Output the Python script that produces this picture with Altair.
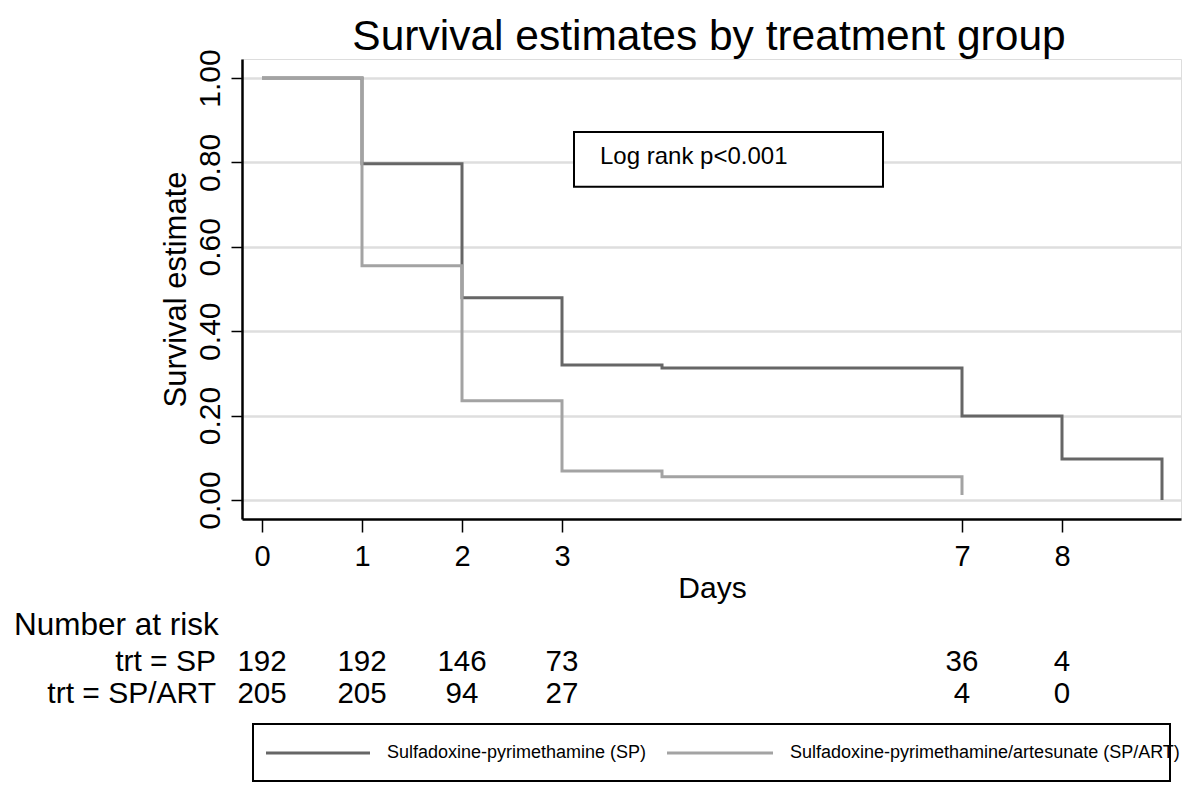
import altair as alt
import pandas as pd

# ---- data ----
days_sp = [0, 1, 2, 3, 4, 7, 8, 9]
surv_sp = [1.0, 0.797, 0.479, 0.320, 0.313, 0.199, 0.097, 0.0]
days_art = [0, 1, 2, 3, 4, 7]
surv_art = [1.0, 0.555, 0.235, 0.069, 0.055, 0.012]

risk_days = [0, 1, 2, 3, 7, 8]
risk_sp = [192, 192, 146, 73, 36, 4]
risk_art = [205, 205, 94, 27, 4, 0]

series_names = ["Sulfadoxine-pyrimethamine (SP)", "Sulfadoxine-pyrimethamine/artesunate (SP/ART)"]
row_labels = ["trt = SP", "trt = SP/ART"]
x_ticks = [0, 1, 2, 3, 7, 8]
y_ticks = [0.0, 0.2, 0.4, 0.6, 0.8, 1.0]

TITLE = "Survival estimates by treatment group"
ANNOT = "Log rank p<0.001"

# ---- styles ----
FONT = "Liberation Sans"
DARK = "#666666"
LIGHT = "#a3a3a3"
W, H = 939, 460

xs = alt.Scale(domain=[-0.2, 9.19], nice=False, zero=False)
ys = alt.Scale(domain=[-0.045, 1.045], nice=False, zero=False)

df_sp = pd.DataFrame({"day": days_sp, "s": surv_sp})
df_art = pd.DataFrame({"day": days_art, "s": surv_art})

x_axis = alt.Axis(values=x_ticks, grid=False, labelFontSize=29, labelFont=FONT,
                  labelColor="black", tickColor="black", tickSize=13, tickWidth=1.5,
                  domainColor="black", domainWidth=2.5, labelPadding=10,
                  title="Days", titleFont=FONT, titleFontSize=30, titleFontWeight="normal",
                  titleColor="black", titleX=470, titleY=78, titleBaseline="alphabetic",
                  titleAlign="center", format="d")
y_axis = alt.Axis(values=y_ticks, grid=True, gridColor="#dedede", gridWidth=2.5,
                  labelFontSize=30, labelFont=FONT, labelColor="black", labelAngle=270,
                  labelAlign="center", labelBaseline="bottom", labelPadding=6,
                  tickColor="black", tickSize=11, tickWidth=1.5, domainColor="black",
                  domainWidth=2.5, format=".2f",
                  title="Survival estimate", titleFont=FONT, titleFontSize=31,
                  titleFontWeight="normal", titleColor="black", titleAngle=270,
                  titleX=-57, titleY=H / 2, titleAlign="center", titleBaseline="alphabetic")

base_sp = alt.Chart(df_sp).mark_line(interpolate="step-after", color=DARK, strokeWidth=3).encode(
    x=alt.X("day:Q", scale=xs, axis=x_axis),
    y=alt.Y("s:Q", scale=ys, axis=y_axis),
)
line_art = alt.Chart(df_art).mark_line(interpolate="step-after", color=LIGHT, strokeWidth=3).encode(
    x=alt.X("day:Q", scale=xs), y=alt.Y("s:Q", scale=ys))

# log-rank annotation box (data coordinates)
box_df = pd.DataFrame({"x": [3.12], "x2": [6.21], "y": [0.872], "y2": [0.742],
                       "tx": [3.38], "ty": [0.813], "t": [ANNOT]})
box = alt.Chart(box_df).mark_rect(fill="white", stroke="black", strokeWidth=2).encode(
    x=alt.X("x:Q", scale=xs), x2="x2", y=alt.Y("y:Q", scale=ys), y2="y2")
box_text = alt.Chart(box_df).mark_text(align="left", baseline="middle", font=FONT,
                                        fontSize=24, color="black").encode(
    x=alt.X("tx:Q", scale=xs), y=alt.Y("ty:Q", scale=ys), text="t:N")

# title
title_df = pd.DataFrame({"t": [TITLE]})
title = alt.Chart(title_df).mark_text(align="center", baseline="alphabetic", font=FONT,
                                       fontSize=42.5, color="black").encode(
    x=alt.value(467), y=alt.value(-9), text="t:N")

# number at risk table
risk_df_sp = pd.DataFrame({"day": risk_days, "n": risk_sp})
risk_df_art = pd.DataFrame({"day": risk_days, "n": risk_art})
risk_sp_txt = alt.Chart(risk_df_sp).mark_text(align="center", baseline="middle", font=FONT,
                                               fontSize=29.5, color="black").encode(
    x=alt.X("day:Q", scale=xs), y=alt.value(603), text="n:Q")
risk_art_txt = alt.Chart(risk_df_art).mark_text(align="center", baseline="middle", font=FONT,
                                                 fontSize=29.5, color="black").encode(
    x=alt.X("day:Q", scale=xs), y=alt.value(635), text="n:Q")
nar = alt.Chart(pd.DataFrame({"t": ["Number at risk"]})).mark_text(
    align="left", baseline="middle", font=FONT, fontSize=31.5, color="black").encode(
    x=alt.value(-228), y=alt.value(567), text="t:N")
row1 = alt.Chart(pd.DataFrame({"t": [row_labels[0]]})).mark_text(
    align="right", baseline="middle", font=FONT, fontSize=30, color="black").encode(
    x=alt.value(-26), y=alt.value(603), text="t:N")
row2 = alt.Chart(pd.DataFrame({"t": [row_labels[1]]})).mark_text(
    align="right", baseline="middle", font=FONT, fontSize=30, color="black").encode(
    x=alt.value(-26), y=alt.value(635), text="t:N")

# legend
one = pd.DataFrame({"a": [0]})
leg_box = alt.Chart(one).mark_rect(fill="white", stroke="black", strokeWidth=2).encode(
    x=alt.value(11), x2=alt.value(928), y=alt.value(665), y2=alt.value(722))
leg_l1 = alt.Chart(one).mark_rule(color=DARK, strokeWidth=3).encode(
    x=alt.value(24), x2=alt.value(128), y=alt.value(694))
leg_l2 = alt.Chart(one).mark_rule(color=LIGHT, strokeWidth=3).encode(
    x=alt.value(425), x2=alt.value(531), y=alt.value(694))
leg_t1 = alt.Chart(pd.DataFrame({"t": [series_names[0]]})).mark_text(
    align="left", baseline="middle", font=FONT, fontSize=18, color="black").encode(
    x=alt.value(145), y=alt.value(694), text="t:N")
leg_t2 = alt.Chart(pd.DataFrame({"t": [series_names[1]]})).mark_text(
    align="left", baseline="middle", font=FONT, fontSize=18, color="black").encode(
    x=alt.value(548), y=alt.value(694), text="t:N")

chart = alt.layer(
    base_sp, line_art, box, box_text, title,
    risk_sp_txt, risk_art_txt, nar, row1, row2,
    leg_box, leg_l1, leg_l2, leg_t1, leg_t2,
).properties(
    width=W, height=H,
    autosize=alt.AutoSizeParams(type="none"),
    padding={"left": 234, "top": 51, "right": 11, "bottom": 270},
).configure_view(
    stroke="black", strokeWidth=1.5
).configure(background="white")

chart.save("out.html", embed_options={"renderer": "svg", "actions": False})
